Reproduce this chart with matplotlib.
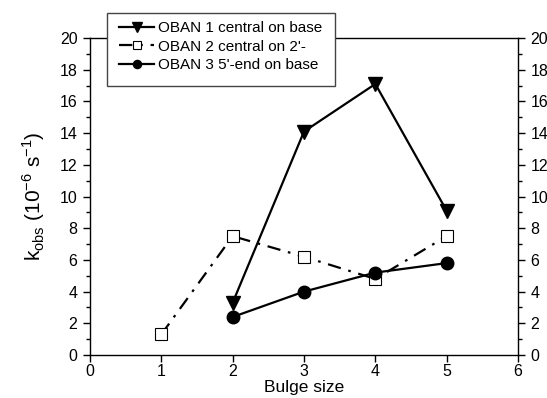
import matplotlib
matplotlib.use("Agg")
import matplotlib.pyplot as plt
from matplotlib.patches import Rectangle
from matplotlib.ticker import MultipleLocator

plt.rcParams['font.family'] = ['Liberation Sans', 'DejaVu Sans']

# values
oban1_x = [2, 3, 4, 5]
oban1_y = [3.3, 14.1, 17.1, 9.1]
oban2_x = [1, 2, 3, 4, 5]
oban2_y = [1.3, 7.5, 6.2, 4.8, 7.5]
oban3_x = [2, 3, 4, 5]
oban3_y = [2.4, 4.0, 5.2, 5.8]

labels = ["OBAN 1 central on base", "OBAN 2 central on 2'-", "OBAN 3 5'-end on base"]

fig = plt.figure(figsize=(5.47, 3.98), dpi=100)
ax = fig.add_axes([0.1645, 0.108, 0.7825, 0.7965])

l1, = ax.plot(oban1_x, oban1_y, '-', color='black', lw=1.6,
              marker='v', ms=10, mfc='black', mec='black')
l2, = ax.plot(oban2_x, oban2_y, color='black', lw=1.6, ls=(0, (6, 3.5, 1.2, 3.5)),
              marker='s', ms=8, mfc='white', mec='black', mew=0.8)
l3, = ax.plot(oban3_x, oban3_y, '-', color='black', lw=1.6,
              marker='o', ms=9, mfc='black', mec='black')

ax.set_xlim(0, 6)
ax.set_ylim(0, 20)
ax.xaxis.set_major_locator(MultipleLocator(1))
ax.yaxis.set_major_locator(MultipleLocator(2))
ax.yaxis.set_minor_locator(MultipleLocator(1))
ax.tick_params(axis='both', which='major', direction='out', length=5, width=1,
               labelsize=11.5, color='black', pad=4)
ax.tick_params(axis='x', which='major', pad=1.5)
ax.tick_params(axis='y', which='minor', direction='out', length=3, width=1)
ax.tick_params(axis='y', which='both', right=True, labelright=True)
ax.tick_params(axis='x', top=False)
for s in ax.spines.values():
    s.set_linewidth(1)

ax.set_xlabel("Bulge size", fontsize=12.5, labelpad=1)
ax.set_ylabel(r"k$_{\mathregular{obs}}$ (10$^{\mathregular{-6}}$ s$^{\mathregular{-1}}$)",
              fontsize=15, labelpad=9)

# legend box sits over the top of the frame, with a blank strip at the bottom
leg = fig.legend([l1, l2, l3], labels, loc='upper left',
                 bbox_to_anchor=(0.218, 0.947), fontsize=11, frameon=False,
                 handlelength=2.3, handletextpad=0.25, borderpad=0,
                 labelspacing=0.3, borderaxespad=0, markerscale=0.65)
fig.add_artist(Rectangle((107 / 547, 1 - 86 / 398), 228 / 547, 73 / 398,
                         transform=fig.transFigure, facecolor='white',
                         edgecolor='#444444', lw=1, zorder=2))
leg.set_zorder(3)

fig.savefig("out.png", dpi=100)
